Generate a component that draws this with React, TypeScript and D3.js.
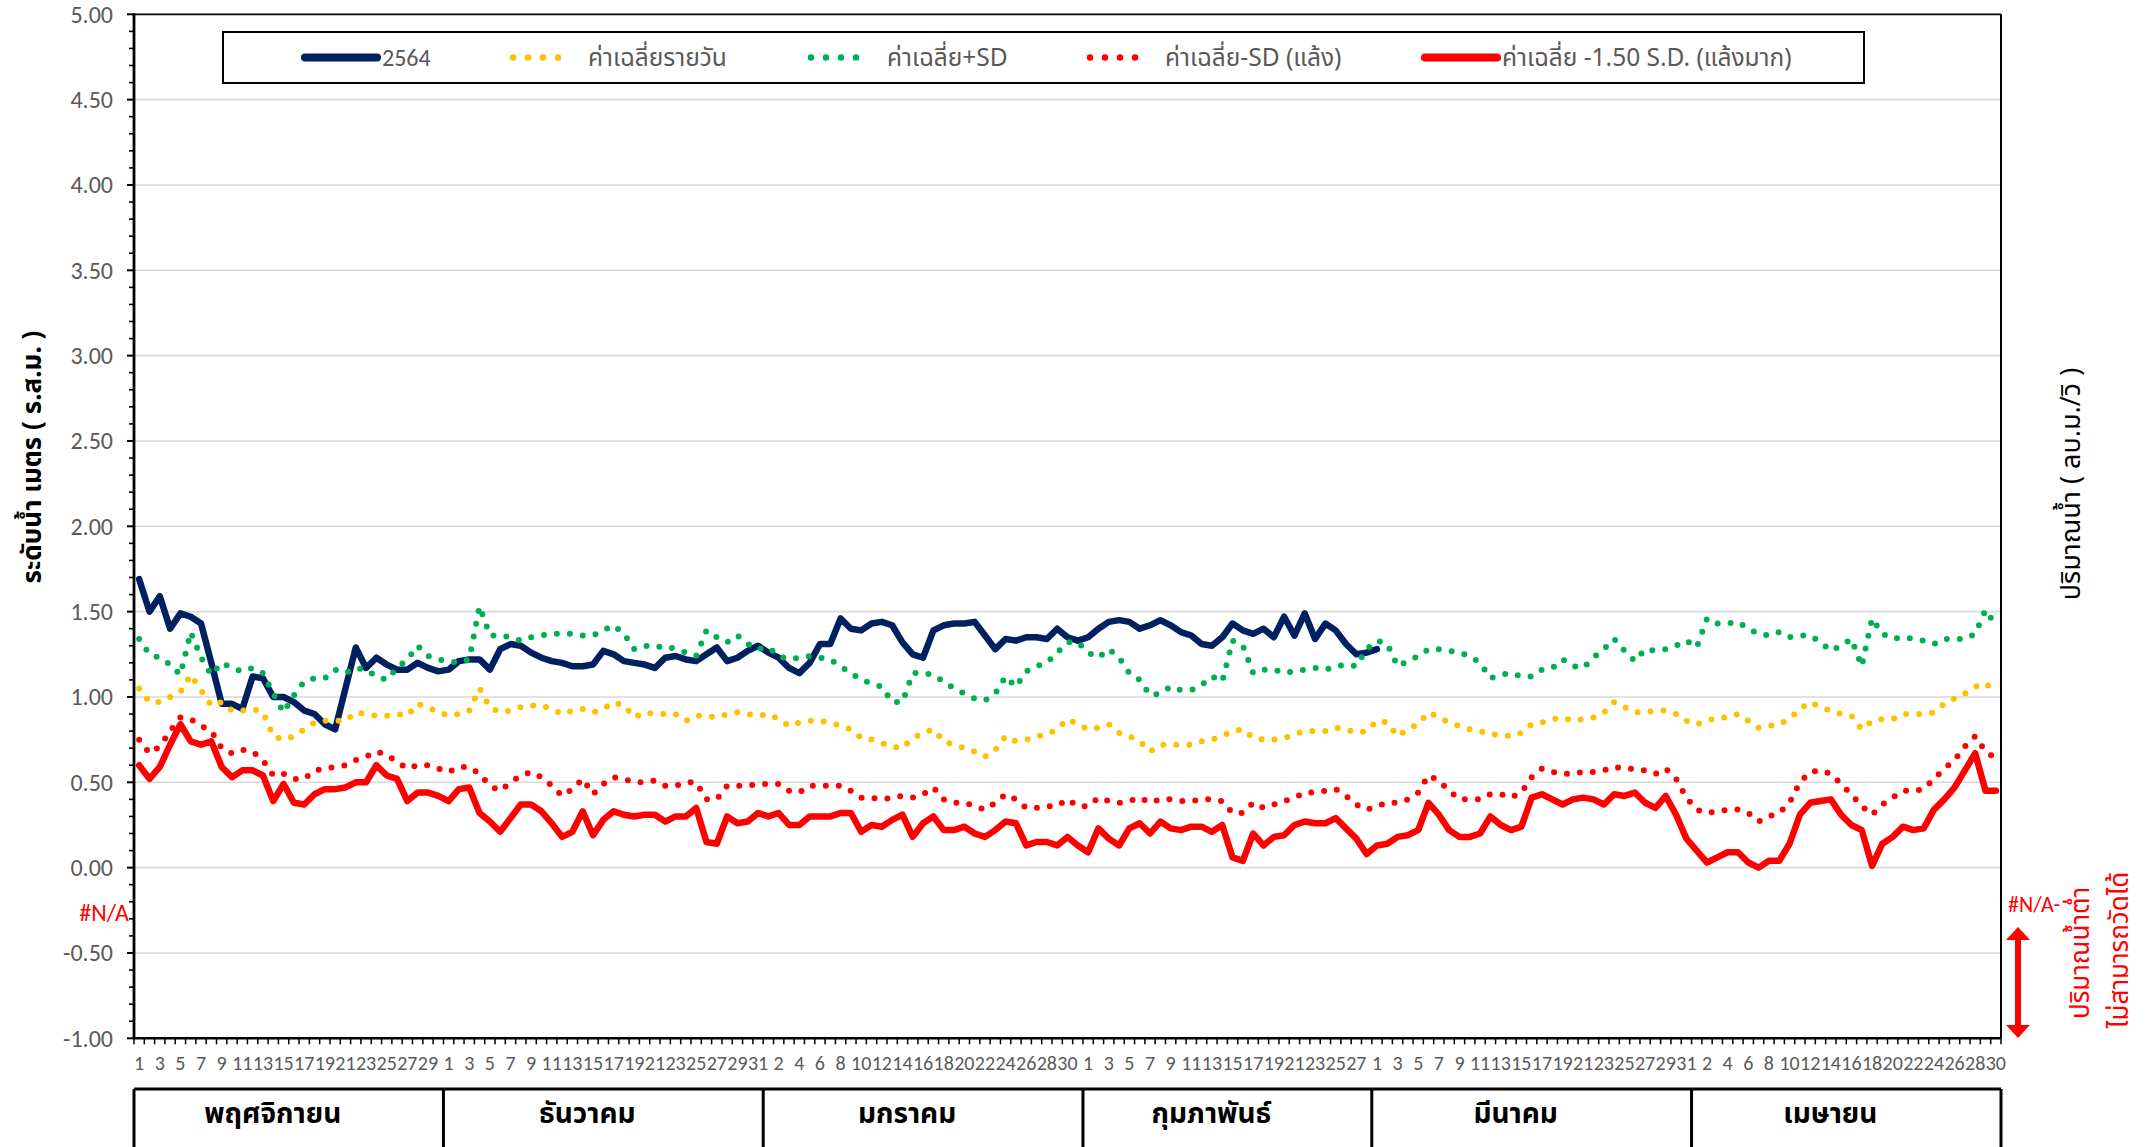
import React from 'react';
import * as d3 from 'd3';

// months of the water year (Nov 2563 - Apr 2564)
const months = ['พฤศจิกายน', 'ธันวาคม', 'มกราคม', 'กุมภาพันธ์', 'มีนาคม', 'เมษายน'];
const monthDays = [30, 31, 31, 28, 31, 30];

const yTicks = [-1, -0.5, 0, 0.5, 1, 1.5, 2, 2.5, 3, 3.5, 4, 4.5, 5];

const legendLabels = ['2564', 'ค่าเฉลี่ยรายวัน', 'ค่าเฉลี่ย+SD', 'ค่าเฉลี่ย-SD (แล้ง)', 'ค่าเฉลี่ย -1.50 S.D. (แล้งมาก)'];

// water level 2564 (ends 1 Mar)
const level2564 = [
  1.69, 1.50, 1.59, 1.40, 1.49, 1.47, 1.43, 1.20, 0.96, 0.96, 0.93, 1.12, 1.11, 1.00, 1.00, 0.97, 0.92, 0.90, 0.84, 0.81,
  1.05, 1.29, 1.17, 1.23, 1.19, 1.16, 1.16, 1.20, 1.17, 1.15, 1.16, 1.21, 1.22, 1.22, 1.16, 1.28, 1.31, 1.30, 1.26, 1.23,
  1.21, 1.20, 1.18, 1.18, 1.19, 1.27, 1.25, 1.21, 1.20, 1.19, 1.17, 1.23, 1.24, 1.22, 1.21, 1.25, 1.29, 1.21, 1.23, 1.27,
  1.30, 1.26, 1.23, 1.17, 1.14, 1.20, 1.31, 1.31, 1.46, 1.40, 1.39, 1.43, 1.44, 1.42, 1.32, 1.25, 1.23, 1.39, 1.42, 1.43,
  1.43, 1.44, 1.36, 1.28, 1.34, 1.33, 1.35, 1.35, 1.34, 1.40, 1.35, 1.33, 1.35, 1.40, 1.44, 1.45, 1.44, 1.40, 1.42, 1.45,
  1.42, 1.38, 1.36, 1.31, 1.30, 1.35, 1.43, 1.39, 1.37, 1.40, 1.35, 1.47, 1.36, 1.49, 1.34, 1.43, 1.39, 1.31, 1.25, 1.26,
  1.28,
];

// daily mean
const avgDaily = [
  1.05, 0.97, 0.97, 1.00, 1.03, 1.13, 1.04, 0.95, 0.97, 0.92, 0.92, 0.93, 0.91, 0.77, 0.75, 0.77, 0.81, 0.85, 0.86, 0.86,
  0.86, 0.91, 0.90, 0.89, 0.89, 0.90, 0.89, 0.96, 0.94, 0.91, 0.89, 0.90, 0.92, 1.05, 0.94, 0.91, 0.92, 0.94, 0.95, 0.95,
  0.93, 0.90, 0.92, 0.93, 0.91, 0.93, 0.97, 0.95, 0.88, 0.91, 0.90, 0.90, 0.90, 0.86, 0.89, 0.89, 0.88, 0.90, 0.91, 0.90,
  0.89, 0.90, 0.87, 0.83, 0.85, 0.86, 0.86, 0.85, 0.83, 0.81, 0.76, 0.75, 0.73, 0.71, 0.70, 0.76, 0.79, 0.81, 0.74, 0.72,
  0.70, 0.68, 0.65, 0.69, 0.77, 0.74, 0.75, 0.77, 0.78, 0.81, 0.87, 0.84, 0.81, 0.82, 0.84, 0.79, 0.77, 0.74, 0.68, 0.72,
  0.72, 0.72, 0.72, 0.74, 0.75, 0.77, 0.80, 0.81, 0.76, 0.75, 0.75, 0.76, 0.78, 0.80, 0.80, 0.80, 0.82, 0.81, 0.79, 0.80,
  0.86, 0.85, 0.77, 0.81, 0.84, 0.91, 0.88, 0.85, 0.83, 0.81, 0.80, 0.78, 0.78, 0.77, 0.79, 0.84, 0.85, 0.87, 0.88, 0.86,
  0.87, 0.88, 0.91, 0.97, 0.94, 0.91, 0.91, 0.92, 0.92, 0.90, 0.86, 0.84, 0.86, 0.88, 0.88, 0.90, 0.86, 0.82, 0.83, 0.84,
  0.87, 0.93, 0.97, 0.94, 0.92, 0.90, 0.89, 0.81, 0.86, 0.87, 0.87, 0.90, 0.90, 0.90, 0.91, 0.96, 0.99, 1.02, 1.06, 1.08,
  1.03,
];

// mean + SD
const avgPlusSD = [
  1.34, 1.25, 1.23, 1.19, 1.13, 1.38, 1.23, 1.13, 1.20, 1.17, 1.15, 1.17, 1.14, 1.02, 0.91, 1.01, 1.09, 1.11, 1.11, 1.16,
  1.14, 1.17, 1.16, 1.12, 1.10, 1.17, 1.22, 1.30, 1.24, 1.22, 1.21, 1.20, 1.22, 1.53, 1.36, 1.36, 1.35, 1.33, 1.35, 1.36,
  1.37, 1.37, 1.37, 1.36, 1.36, 1.39, 1.42, 1.37, 1.28, 1.30, 1.29, 1.30, 1.28, 1.26, 1.24, 1.39, 1.35, 1.32, 1.36, 1.31,
  1.28, 1.29, 1.24, 1.22, 1.23, 1.24, 1.23, 1.22, 1.18, 1.14, 1.10, 1.08, 1.06, 0.97, 0.97, 1.14, 1.14, 1.13, 1.09, 1.05,
  1.02, 0.99, 0.98, 1.02, 1.12, 1.06, 1.15, 1.18, 1.20, 1.26, 1.32, 1.32, 1.26, 1.23, 1.28, 1.23, 1.14, 1.10, 1.01, 1.02,
  1.06, 1.04, 1.04, 1.07, 1.12, 1.09, 1.33, 1.30, 1.14, 1.16, 1.16, 1.14, 1.15, 1.16, 1.17, 1.16, 1.18, 1.19, 1.18, 1.28,
  1.33, 1.31, 1.18, 1.21, 1.24, 1.28, 1.28, 1.27, 1.26, 1.24, 1.20, 1.11, 1.13, 1.14, 1.12, 1.12, 1.16, 1.17, 1.22, 1.18,
  1.17, 1.23, 1.28, 1.34, 1.27, 1.21, 1.28, 1.27, 1.28, 1.30, 1.33, 1.29, 1.46, 1.43, 1.43, 1.44, 1.40, 1.37, 1.36, 1.38,
  1.35, 1.36, 1.36, 1.32, 1.27, 1.30, 1.34, 1.18, 1.46, 1.37, 1.34, 1.35, 1.34, 1.33, 1.31, 1.34, 1.34, 1.34, 1.37, 1.51,
  1.42,
];

// mean - SD (drought)
const avgMinusSD = [
  0.75, 0.67, 0.71, 0.80, 0.88, 0.87, 0.83, 0.80, 0.70, 0.67, 0.69, 0.68, 0.63, 0.54, 0.55, 0.52, 0.52, 0.57, 0.58, 0.59,
  0.60, 0.63, 0.65, 0.68, 0.66, 0.62, 0.58, 0.60, 0.60, 0.58, 0.56, 0.59, 0.59, 0.55, 0.48, 0.45, 0.50, 0.54, 0.56, 0.53,
  0.48, 0.42, 0.46, 0.52, 0.43, 0.49, 0.53, 0.52, 0.50, 0.50, 0.51, 0.48, 0.48, 0.50, 0.50, 0.40, 0.40, 0.48, 0.48, 0.48,
  0.49, 0.49, 0.49, 0.45, 0.44, 0.48, 0.48, 0.48, 0.48, 0.45, 0.41, 0.41, 0.40, 0.41, 0.42, 0.41, 0.43, 0.47, 0.40, 0.38,
  0.38, 0.36, 0.34, 0.38, 0.43, 0.40, 0.35, 0.35, 0.36, 0.36, 0.40, 0.36, 0.36, 0.41, 0.39, 0.38, 0.39, 0.41, 0.38, 0.40,
  0.40, 0.39, 0.39, 0.40, 0.40, 0.39, 0.32, 0.32, 0.38, 0.35, 0.37, 0.39, 0.41, 0.44, 0.44, 0.45, 0.46, 0.42, 0.37, 0.34,
  0.36, 0.38, 0.38, 0.40, 0.44, 0.54, 0.51, 0.45, 0.40, 0.40, 0.40, 0.43, 0.43, 0.41, 0.44, 0.53, 0.58, 0.56, 0.55, 0.55,
  0.56, 0.56, 0.57, 0.59, 0.58, 0.58, 0.57, 0.55, 0.58, 0.52, 0.41, 0.34, 0.32, 0.33, 0.34, 0.34, 0.32, 0.27, 0.30, 0.32,
  0.38, 0.50, 0.56, 0.57, 0.55, 0.49, 0.43, 0.36, 0.31, 0.37, 0.41, 0.45, 0.45, 0.46, 0.52, 0.58, 0.63, 0.71, 0.77, 0.68,
  0.64,
];

// mean - 1.50 SD (severe drought)
const avgMinus150SD = [
  0.60, 0.52, 0.59, 0.72, 0.84, 0.74, 0.72, 0.74, 0.59, 0.53, 0.57, 0.57, 0.54, 0.39, 0.49, 0.38, 0.37, 0.43, 0.46, 0.46,
  0.47, 0.50, 0.50, 0.60, 0.54, 0.52, 0.39, 0.44, 0.44, 0.42, 0.39, 0.46, 0.47, 0.32, 0.27, 0.21, 0.29, 0.37, 0.37, 0.33,
  0.26, 0.18, 0.21, 0.33, 0.19, 0.28, 0.33, 0.31, 0.30, 0.31, 0.31, 0.27, 0.30, 0.30, 0.35, 0.15, 0.14, 0.30, 0.26, 0.27,
  0.32, 0.30, 0.32, 0.25, 0.25, 0.30, 0.30, 0.30, 0.32, 0.32, 0.21, 0.25, 0.24, 0.28, 0.31, 0.18, 0.26, 0.30, 0.22, 0.22,
  0.24, 0.20, 0.18, 0.22, 0.27, 0.26, 0.13, 0.15, 0.15, 0.13, 0.18, 0.13, 0.09, 0.23, 0.17, 0.13, 0.23, 0.26, 0.20, 0.27,
  0.23, 0.22, 0.24, 0.24, 0.21, 0.25, 0.06, 0.04, 0.20, 0.13, 0.18, 0.19, 0.25, 0.27, 0.26, 0.26, 0.29, 0.23, 0.17, 0.08,
  0.13, 0.14, 0.18, 0.19, 0.22, 0.38, 0.31, 0.22, 0.18, 0.18, 0.20, 0.30, 0.25, 0.22, 0.24, 0.41, 0.43, 0.40, 0.37, 0.40,
  0.41, 0.40, 0.37, 0.43, 0.42, 0.44, 0.38, 0.35, 0.42, 0.31, 0.17, 0.10, 0.03, 0.06, 0.09, 0.09, 0.03, 0.00, 0.04, 0.04,
  0.14, 0.31, 0.38, 0.39, 0.40, 0.31, 0.25, 0.22, 0.01, 0.14, 0.18, 0.24, 0.22, 0.23, 0.34, 0.40, 0.47, 0.57, 0.67, 0.45,
  0.45,
];

const NUM_FONT = "Calibri, Carlito, Roboto, sans-serif";
const THAI_FONT = "Tahoma, 'Noto Sans Thai', 'Leelawadee UI', Roboto, sans-serif";
const GREY = '#595959';

export default function App() {
  const W = 2155, H = 1147;
  const left = 134, right = 2001, top = 14.3, bottom = 1038.3;

  const nDays = d3.sum(monthDays);
  const x = d3.scaleBand<number>().domain(d3.range(nDays)).range([left, right]).padding(0);
  const bw = x.bandwidth();
  const cx = (i: number) => (x(i) as number) + bw / 2;
  const y = d3.scaleLinear().domain([-1, 5]).range([bottom, top]);

  const line = d3.line<number>().x((_, i) => cx(i)).y(d => y(d));

  // day labels: every second day across the whole period
  const days: { i: number; day: number }[] = [];
  let g = 0;
  monthDays.forEach(n => {
    for (let d = 1; d <= n; d++) { days.push({ i: g, day: d }); g++; }
  });
  const monthStart = [0, ...d3.cumsum(monthDays)];

  const minorTicks = d3.range(-10, 51).map(v => v / 10).filter(v => Math.abs(v * 2 - Math.round(v * 2)) > 0.01);

  const tableTop = 1089;

  // legend layout
  const legY = 57.5;
  const legX = [305, 513, 811, 1090, 1425];
  const legTextX = [382, 588, 887, 1165, 1502];

  return (
    <div>
      <style>{`body{margin:0;}`}</style>
      <svg width={W} height={H} style={{ display: 'block', background: '#fff' }}>
        {/* gridlines */}
        {yTicks.filter(t => t > -1 && t < 5).map(t => (
          <line key={'g' + t} x1={left} x2={right} y1={y(t)} y2={y(t)} stroke="#d9d9d9" strokeWidth={1.6} />
        ))}

        {/* series */}
        <path d={line(level2564) || ''} fill="none" stroke="#002060" strokeWidth={6.5} strokeLinejoin="round" strokeLinecap="round" />
        <path d={line(avgMinus150SD) || ''} fill="none" stroke="#ff0000" strokeWidth={6.5} strokeLinejoin="round" strokeLinecap="round" />
        <path d={line(avgDaily) || ''} fill="none" stroke="#ffc000" strokeWidth={6} strokeDasharray="0 13" strokeLinecap="round" />
        <path d={line(avgPlusSD) || ''} fill="none" stroke="#00b050" strokeWidth={6} strokeDasharray="0 13" strokeLinecap="round" />
        <path d={line(avgMinusSD) || ''} fill="none" stroke="#ff0000" strokeWidth={6} strokeDasharray="0 13" strokeLinecap="round" />

        {/* frame */}
        <line x1={left} x2={right} y1={top} y2={top} stroke="#000" strokeWidth={1.8} />
        <line x1={right} x2={right} y1={top} y2={bottom} stroke="#000" strokeWidth={2} />
        <line x1={left} x2={right} y1={bottom} y2={bottom} stroke="#000" strokeWidth={2.5} />
        <line x1={left} x2={left} y1={top - 1} y2={bottom + 1} stroke="#000" strokeWidth={2.8} />

        {/* y ticks */}
        {yTicks.map(t => (
          <g key={'yt' + t}>
            <line x1={left - 7} x2={left} y1={y(t)} y2={y(t)} stroke="#000" strokeWidth={2} />
            <text x={113} y={y(t)} dy="0.35em" textAnchor="end" fontFamily={NUM_FONT} fontSize={24} fill={GREY}>
              {t.toFixed(2)}
            </text>
          </g>
        ))}
        {minorTicks.map(t => (
          <line key={'ym' + t} x1={left - 5} x2={left} y1={y(t)} y2={y(t)} stroke="#000" strokeWidth={1.6} />
        ))}

        {/* x ticks at category boundaries */}
        {d3.range(nDays + 1).map(i => {
          const xx = i < nDays ? (x(i) as number) : right;
          return <line key={'xt' + i} x1={xx} x2={xx} y1={bottom} y2={bottom + 6} stroke="#000" strokeWidth={1.5} />;
        })}
        {days.filter(d => d.i % 2 === 0).map(d => (
          <text key={'xl' + d.i} x={cx(d.i)} y={1070} textAnchor="middle" fontFamily={NUM_FONT} fontSize={20} fill={GREY}>
            {d.day}
          </text>
        ))}

        {/* month table */}
        <line x1={left} x2={right} y1={tableTop} y2={tableTop} stroke="#000" strokeWidth={3} />
        {monthStart.map((s, k) => {
          const xx = s < nDays ? (x(s) as number) : right;
          return <line key={'mb' + k} x1={xx} x2={xx} y1={tableTop} y2={H} stroke="#000" strokeWidth={3} />;
        })}
        {months.map((m, k) => {
          const x0 = x(monthStart[k]) as number;
          const x1 = monthStart[k + 1] < nDays ? (x(monthStart[k + 1]) as number) : right;
          return (
            <text key={'m' + k} x={(x0 + x1) / 2 - 16} y={1123} textAnchor="middle" fontFamily={THAI_FONT} fontWeight="bold" fontSize={28} fill="#000">
              {m}
            </text>
          );
        })}

        {/* legend */}
        <rect x={223} y={32} width={1641} height={51} fill="#fff" stroke="#000" strokeWidth={2} />
        <line x1={legX[0]} x2={legX[0] + 72} y1={legY} y2={legY} stroke="#002060" strokeWidth={8} strokeLinecap="round" />
        <line x1={legX[1]} x2={legX[1] + 60} y1={legY} y2={legY} stroke="#ffc000" strokeWidth={6.5} strokeDasharray="0 15" strokeLinecap="round" />
        <line x1={legX[2]} x2={legX[2] + 60} y1={legY} y2={legY} stroke="#00b050" strokeWidth={6.5} strokeDasharray="0 15" strokeLinecap="round" />
        <line x1={legX[3]} x2={legX[3] + 60} y1={legY} y2={legY} stroke="#ff0000" strokeWidth={6.5} strokeDasharray="0 15" strokeLinecap="round" />
        <line x1={legX[4]} x2={legX[4] + 72} y1={legY} y2={legY} stroke="#ff0000" strokeWidth={8} strokeLinecap="round" />
        {legendLabels.map((l, k) => (
          <text key={'lg' + k} x={legTextX[k]} y={legY} dy="0.35em" fontFamily={k === 0 ? NUM_FONT : THAI_FONT} fontSize={k === 0 ? 24 : 24.5} fill={GREY}>
            {l}
          </text>
        ))}

        {/* axis titles */}
        <text transform="translate(41,457) rotate(-90)" textAnchor="middle" fontFamily={THAI_FONT} fontWeight="bold" fontSize={26} fill="#000">
          ระดับน้ำ เมตร ( ร.ส.ม. )
        </text>
        <text transform="translate(2080,484) rotate(-90)" textAnchor="middle" fontFamily={THAI_FONT} fontSize={27} fill="#000">
          ปริมาณน้ำ ( ลบ.ม./วิ )
        </text>

        {/* N/A notes */}
        <text x={129} y={921} textAnchor="end" fontFamily={NUM_FONT} fontSize={24} fill="#ff0000">#N/A</text>
        <text x={2008} y={912} fontFamily={NUM_FONT} fontSize={22} fill="#ff0000">#N/A-</text>
        <line x1={2018} x2={2018} y1={938} y2={1027} stroke="#ff0000" strokeWidth={6} />
        <path d="M2018,927 L2030,940 L2006,940 Z" fill="#ff0000" />
        <path d="M2018,1038 L2030,1025 L2006,1025 Z" fill="#ff0000" />
        <text transform="translate(2089,953) rotate(-90)" textAnchor="middle" fontFamily={THAI_FONT} fontSize={26} fill="#ff0000">
          ปริมาณน้ำต่ำ
        </text>
        <text transform="translate(2128,950) rotate(-90)" textAnchor="middle" fontFamily={THAI_FONT} fontSize={26} fill="#ff0000">
          ไม่สามารถวัดได้
        </text>
      </svg>
    </div>
  );
}
